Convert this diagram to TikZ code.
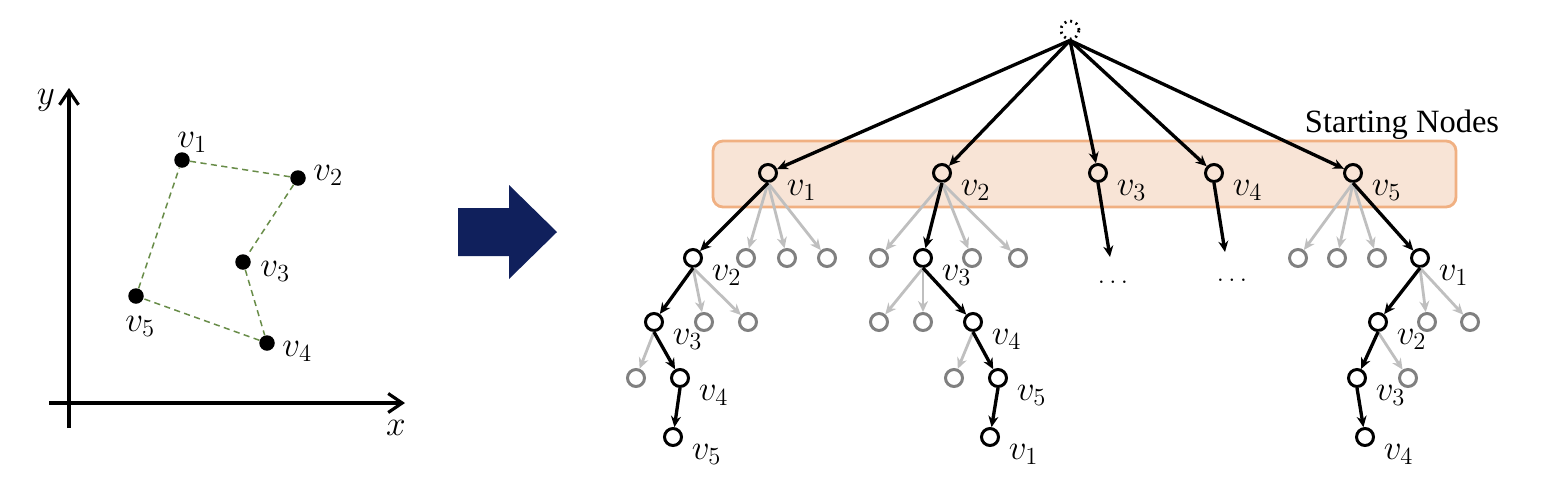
\documentclass[tikz,border=0pt]{standalone}
\usepackage{fix-cm}
\usepackage{fontspec}
\usepackage{tikz}
\usetikzlibrary{arrows.meta}

\newfontfamily\startfont{Liberation Serif}
\newcommand{\labsize}{\fontsize{20}{24}\selectfont}
\definecolor{navy}{RGB}{16,32,92}
\definecolor{peach}{RGB}{248,228,214}
\definecolor{peachline}{RGB}{240,176,130}
\definecolor{edgegreen}{RGB}{104,140,72}

\begin{document}
\begin{tikzpicture}[x=0.02cm,y=-0.02cm,
			tree node/.style={circle,draw,line width=1.7pt,minimum size=0.34cm,inner sep=0pt},
			gray node/.style={tree node,draw=black!50},
			root node/.style={circle,draw,line width=1.6pt,dash pattern=on 1.1pt off 2.3pt,minimum size=0.36cm,inner sep=0pt},
			point/.style={circle,fill=black,minimum size=0.31cm,inner sep=0pt},
			lab/.style={label={[anchor=base west,inner sep=0pt,xshift=0.17cm,yshift=-0.44cm,font=\labsize]0:$v_{#1}$}},
			plab/.style={anchor=base west,inner sep=0pt,font=\labsize},
			walk/.style={-{Stealth[length=0.22cm,width=0.2cm]},line width=1.9pt},
			skip/.style={walk,black!25,line width=1.6pt},
			axis/.style={-{Straight Barb[length=0.28cm,width=0.38cm,line width=1.8pt]},line width=1.8pt},
			ring/.style={edgegreen,line width=0.85pt,dash pattern=on 3.5pt off 2.5pt}
			]

			\useasboundingbox (0,0) rectangle (1544,488);

			% points in the plane
			\coordinate (yb) at (69,428);
			\coordinate (yt) at (69,88);
			\coordinate (xl) at (49,403);
			\coordinate (xr) at (405,403);
			\draw[axis] (yb) -- (yt);
			\draw[axis] (xl) -- (xr);
			\node[font=\labsize] (ylab) at (46,100) {$y$};
			\node[font=\labsize] (xlab) at (396,428) {$x$};

			\node[point,label={[plab,xshift=-0.26cm,yshift=0.26cm]0:$v_1$}] (p1) at (182,160) {};
			\node[point,label={[plab,xshift=0.14cm,yshift=-0.04cm]0:$v_2$}] (p2) at (298,178) {};
			\node[point,label={[plab,xshift=0.18cm,yshift=-0.28cm]0:$v_3$}] (p3) at (243,262) {};
			\node[point,label={[plab,xshift=0.14cm,yshift=-0.26cm]0:$v_4$}] (p4) at (267,343) {};
			\node[point,label={[plab,xshift=-0.38cm,yshift=-0.7cm]0:$v_5$}] (p5) at (136,296) {};
			\draw[ring] (p1) -- (p2) -- (p3) -- (p4) -- (p5) -- (p1);

			% big arrow
			\fill[navy] (458,208) -- (509,208) -- (509,185) -- (557,232) -- (509,279) -- (509,256) -- (458,256) -- cycle;

			% starting nodes
			\draw[fill=peach,draw=peachline,line width=1.6pt,rounded corners=0.2cm] (713,141) rectangle (1456,207);
			\node[anchor=base,font=\startfont\fontsize{18.5}{22}\selectfont] (startlab) at (1402,132) {Starting Nodes};

			\node[root node] (root) at (1070,30) {};
			\node[tree node,lab=1] (s1) at (768,173) {};
			\node[tree node,lab=2] (s2) at (942,173) {};
			\node[tree node,lab=3] (s3) at (1098,173) {};
			\node[tree node,lab=4] (s4) at (1214,173) {};
			\node[tree node,lab=5] (s5) at (1353,173) {};
			\foreach \i in {1,...,5}
				\draw[walk] (root.south) -- (s\i);

			% tree from v1
			\node[tree node,lab=2] (a2) at (693,258) {};
			\node[tree node,lab=3] (a3) at (654,322) {};
			\node[tree node,lab=4] (a4) at (680,378) {};
			\node[tree node,lab=5] (a5) at (673,437) {};
			\foreach \x [count=\k] in {746,787,827} {
				\node[gray node] (ga\k) at (\x,258) {};
				\draw[skip] (s1.south) -- (ga\k);
			}
			\foreach \x [count=\k] in {704,748} {
				\node[gray node] (gb\k) at (\x,322) {};
				\draw[skip] (a2.south) -- (gb\k);
			}
			\node[gray node] (gc1) at (636,378) {};
			\draw[skip] (a3.south) -- (gc1);
			\draw[walk] (s1.south) -- (a2);
			\draw[walk] (a2.south) -- (a3);
			\draw[walk] (a3.south) -- (a4);
			\draw[walk] (a4.south) -- (a5);

			% tree from v2
			\node[tree node,lab=3] (b3) at (923,258) {};
			\node[tree node,lab=4] (b4) at (973,322) {};
			\node[tree node,lab=5] (b5) at (998,378) {};
			\node[tree node,lab=1] (b1) at (990,437) {};
			\foreach \x [count=\k] in {879,972,1018} {
				\node[gray node] (gd\k) at (\x,258) {};
				\draw[skip] (s2.south) -- (gd\k);
			}
			\foreach \x [count=\k] in {879,923} {
				\node[gray node] (ge\k) at (\x,322) {};
				\draw[skip] (b3.south) -- (ge\k);
			}
			\node[gray node] (gf1) at (954,378) {};
			\draw[skip] (b4.south) -- (gf1);
			\draw[walk] (s2.south) -- (b3);
			\draw[walk] (b3.south) -- (b4);
			\draw[walk] (b4.south) -- (b5);
			\draw[walk] (b5.south) -- (b1);

			% v3 and v4
			\coordinate (e3) at (1110,257);
			\coordinate (e4) at (1225,252);
			\draw[walk] (s3.south) -- (e3);
			\draw[walk] (s4.south) -- (e4);
			\node[font=\fontsize{15}{18}\selectfont] (d3) at (1113,282) {$\ldots$};
			\node[font=\fontsize{15}{18}\selectfont] (d4) at (1232,280) {$\ldots$};

			% tree from v5
			\node[tree node,lab=1] (c1) at (1420,258) {};
			\node[tree node,lab=2] (c2) at (1378,322) {};
			\node[tree node,lab=3] (c3) at (1357,378) {};
			\node[tree node,lab=4] (c4) at (1365,437) {};
			\foreach \x [count=\k] in {1298,1337,1377} {
				\node[gray node] (gg\k) at (\x,258) {};
				\draw[skip] (s5.south) -- (gg\k);
			}
			\foreach \x [count=\k] in {1427,1470} {
				\node[gray node] (gh\k) at (\x,322) {};
				\draw[skip] (c1.south) -- (gh\k);
			}
			\node[gray node] (gi1) at (1408,378) {};
			\draw[skip] (c2.south) -- (gi1);
			\draw[walk] (s5.south) -- (c1);
			\draw[walk] (c1.south) -- (c2);
			\draw[walk] (c2.south) -- (c3);
			\draw[walk] (c3.south) -- (c4);
		\end{tikzpicture}
\end{document}
